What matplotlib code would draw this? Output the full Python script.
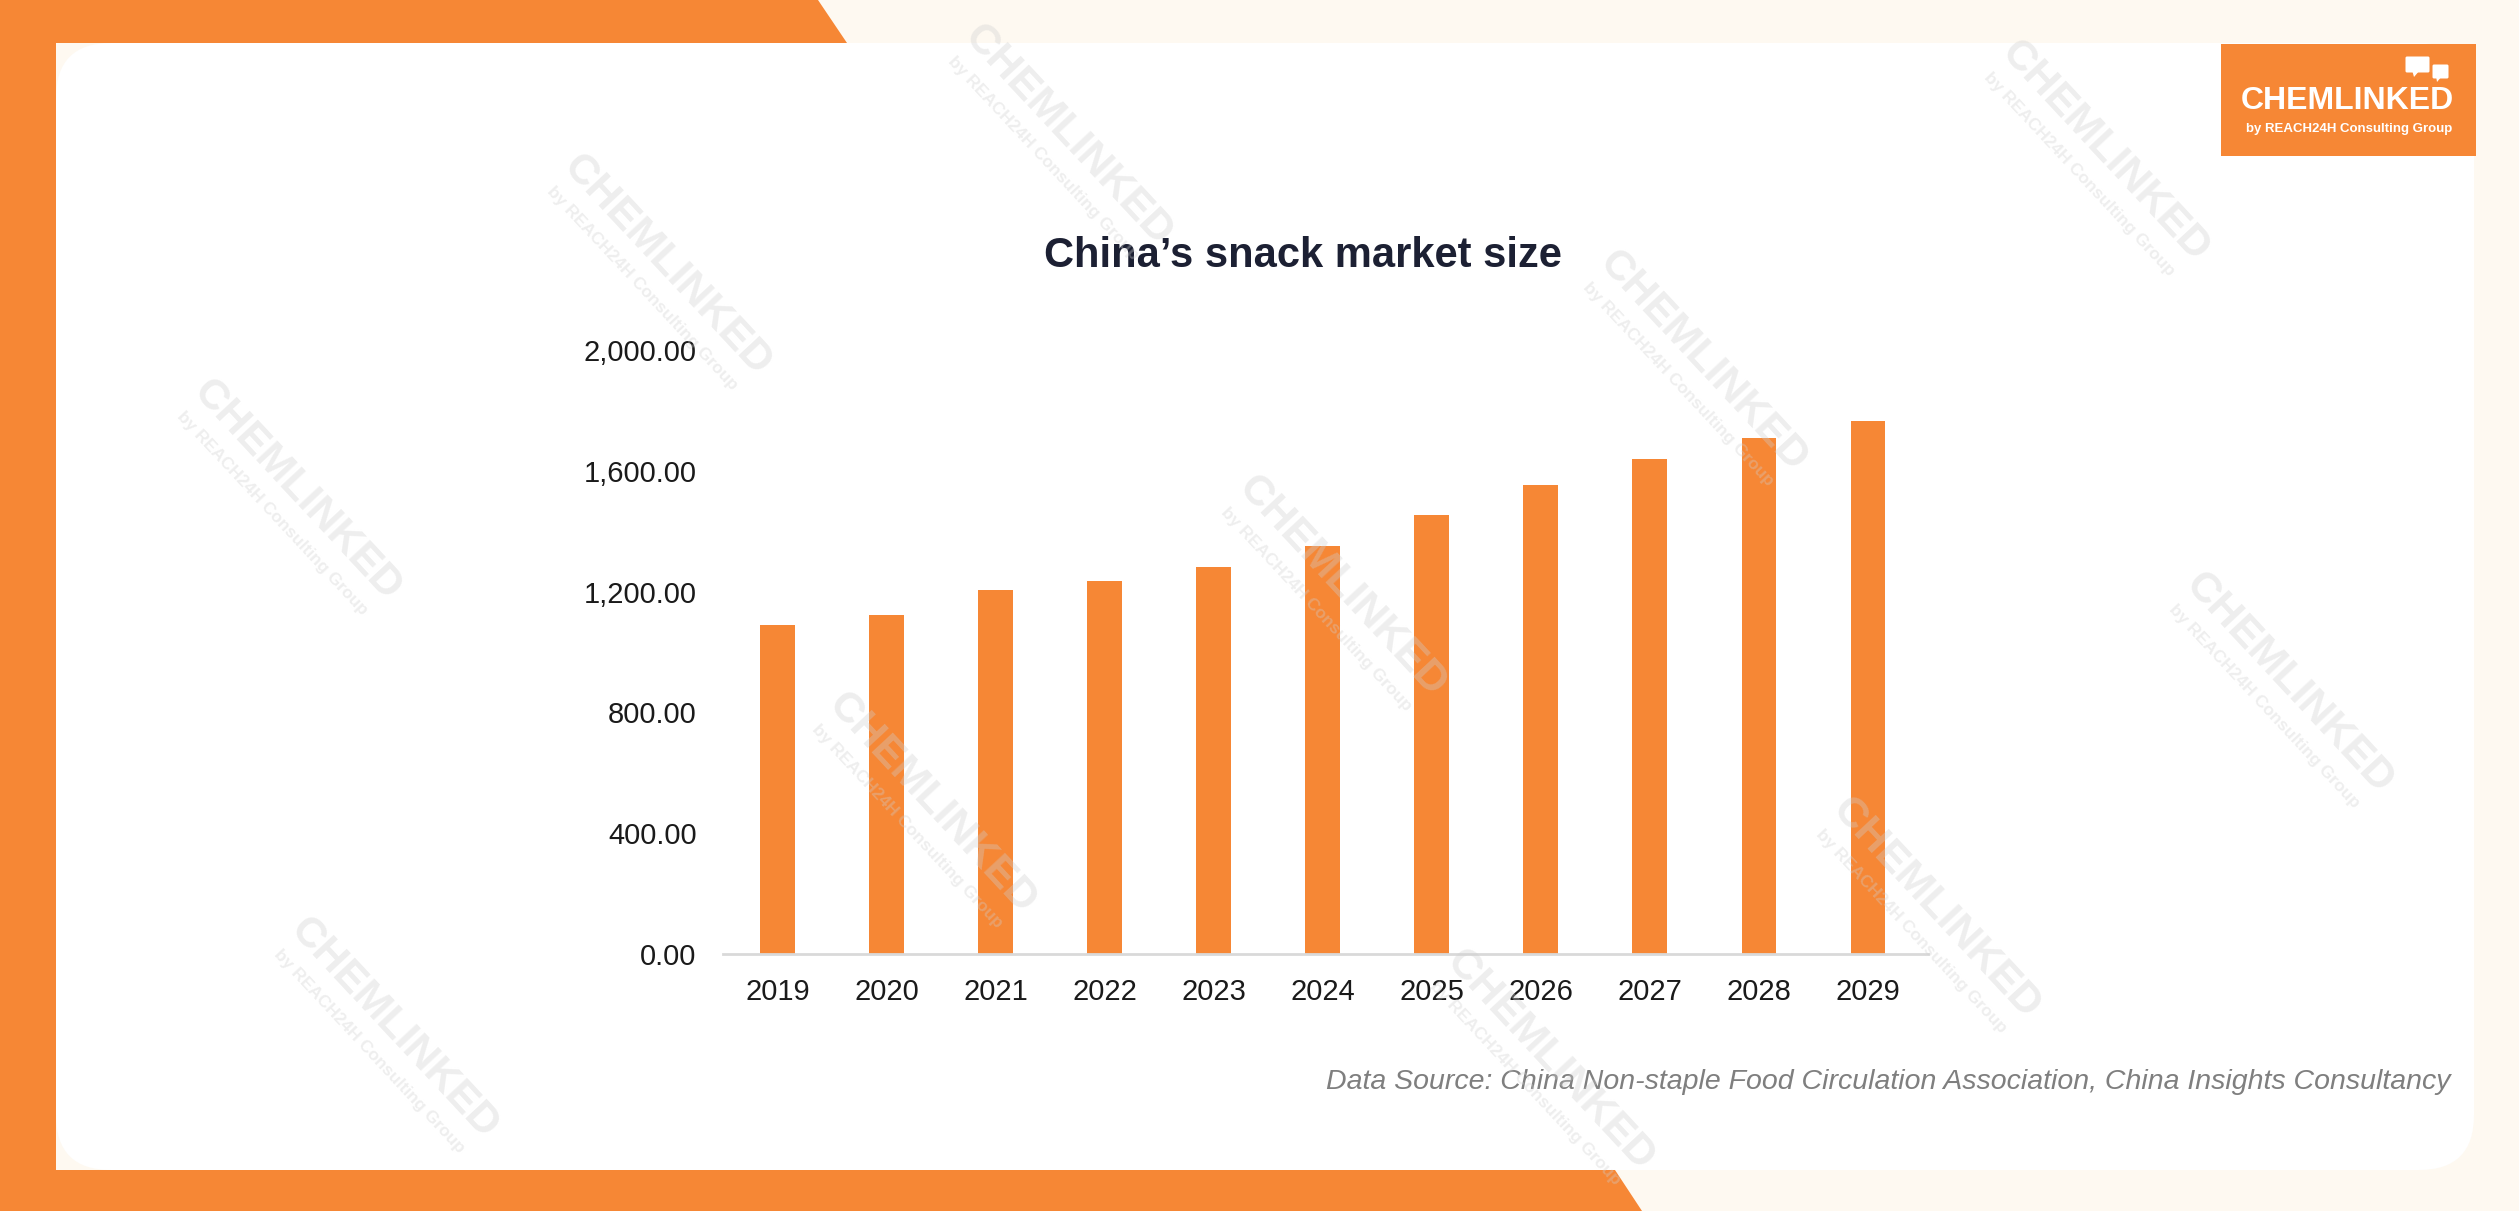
import numpy as np
import matplotlib
matplotlib.use("Agg")
import matplotlib.pyplot as plt
from matplotlib.patches import Rectangle, Polygon, FancyBboxPatch

# data
years = ["2019", "2020", "2021", "2022", "2023", "2024", "2025", "2026", "2027", "2028", "2029"]
market_size = [1088, 1123, 1205, 1234, 1283, 1351, 1454, 1553, 1638, 1707, 1766]
y_ticks = [0, 400, 800, 1200, 1600, 2000]

title = "China\u2019s snack market size"
source = "Data Source: China Non-staple Food Circulation Association, China Insights Consultancy"

ORANGE = "#F68735"
CREAM = "#FEF9F1"
W, H = 2519, 1211

plt.rcParams["font.family"] = ["Liberation Sans", "DejaVu Sans"]

fig = plt.figure(figsize=(W / 100, H / 100), dpi=100, facecolor=CREAM)

# background frame, drawn in pixel coordinates
bg = fig.add_axes([0, 0, 1, 1], zorder=-5)
bg.set_xlim(0, W)
bg.set_ylim(H, 0)
bg.axis("off")
bg.add_patch(Rectangle((0, 0), 56, H, color=ORANGE, lw=0))
bg.add_patch(Polygon([(0, 0), (818, 0), (847, 43), (0, 43)], closed=True, color=ORANGE, lw=0))
bg.add_patch(Polygon([(0, 1170), (1615, 1170), (1642, H), (0, H)], closed=True, color=ORANGE, lw=0))
bg.add_patch(FancyBboxPatch((56 + 55, 43 + 55), 2474 - 56 - 110, 1170 - 43 - 110,
                            boxstyle="round,pad=55", fc="white", ec="none"))

# logo
bg.add_patch(Rectangle((2221, 44), 255, 112, color=ORANGE, lw=0))
bg.add_patch(FancyBboxPatch((2407, 58), 21, 13, boxstyle="round,pad=1.5", fc="white", ec="none"))
bg.add_patch(Polygon([(2412, 70), (2420, 70), (2414, 77)], closed=True, fc="white", ec="none"))
bg.add_patch(FancyBboxPatch((2434, 66), 13, 11, boxstyle="round,pad=1.5", fc="white", ec="none"))
bg.add_patch(Polygon([(2436, 76), (2442, 76), (2437, 82)], closed=True, fc="white", ec="none"))
bg.text(2347, 101, "CHEMLINKED", color="white", fontsize=23, fontweight="bold",
        ha="center", va="center")
bg.text(2349, 129, "by REACH24H Consulting Group", color="white", fontsize=9.5, fontweight="bold",
        ha="center", va="center")

# chart
ax = fig.add_axes([723 / W, 1 - 954 / H, (1928 - 723) / W, (954 - 350) / H])
x = np.arange(len(years))
ax.bar(x, market_size, width=0.32, color=ORANGE, zorder=2)
ax.set_xlim(-0.5, len(years) - 0.45)
ax.set_ylim(0, 2000)
ax.set_xticks(x)
ax.set_xticklabels(years)
ax.set_yticks(y_ticks)
ax.set_yticklabels([f"{v:,.2f}" for v in y_ticks])
ax.tick_params(axis="both", length=0, labelsize=21, colors="#1a1a1a")
ax.tick_params(axis="y", pad=19)
ax.tick_params(axis="x", pad=17)
for s in ["top", "right", "left"]:
    ax.spines[s].set_visible(False)
ax.spines["bottom"].set_color("#d9d9d9")
ax.spines["bottom"].set_linewidth(2)
ax.set_facecolor("none")

fig.text(1303 / W, 1 - 256 / H, title, fontsize=30, fontweight="bold", color="#1c2033",
         ha="center", va="center")
fig.text(2451 / W, 1 - 1082 / H, source, fontsize=20.5, style="italic", color="#7f7f7f",
         ha="right", va="center")

# faint watermarks
marks = [(665, 84), (1310, 94), (415, 165), (1060, 225), (185, 305), (835, 365),
         (1425, 425), (580, 500), (1205, 565), (245, 640), (965, 660)]
ang = np.deg2rad(47)
for mx, my in marks:
    px, py = mx * 1.6065, my * 1.6065
    fig.text(px / W, 1 - py / H, "CHEMLINKED", rotation=-47, rotation_mode="anchor",
             fontsize=31, fontweight="bold", color="#cfcfcf", alpha=0.35,
             ha="center", va="center", zorder=5)
    ox, oy = -np.sin(ang) * 34, np.cos(ang) * 34
    fig.text((px + ox) / W, 1 - (py + oy) / H, "by REACH24H Consulting Group", rotation=-47,
             rotation_mode="anchor", fontsize=12.5, fontweight="bold", color="#cfcfcf", alpha=0.35,
             ha="center", va="center", zorder=5)

fig.savefig("out.png", dpi=100, facecolor=CREAM)
